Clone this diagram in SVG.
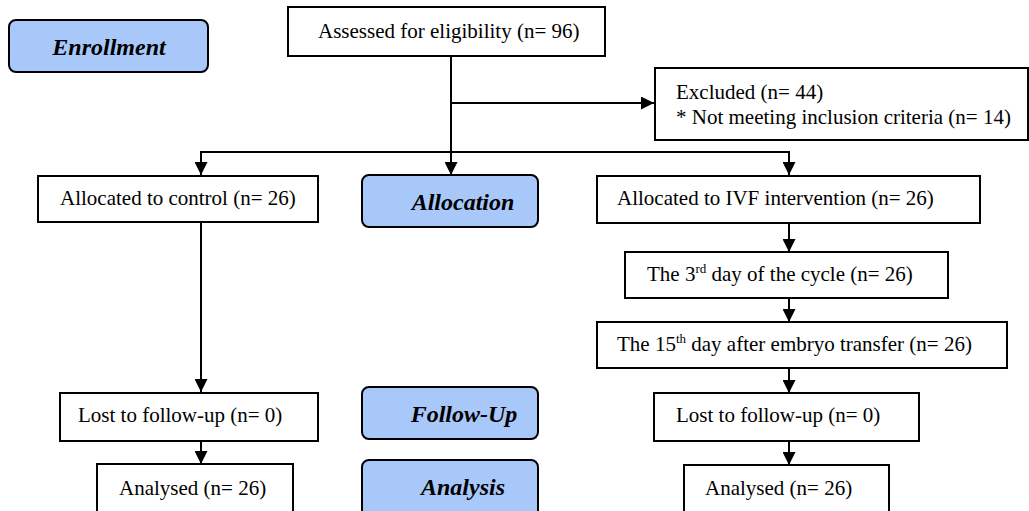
<svg xmlns="http://www.w3.org/2000/svg" width="1029" height="511" viewBox="0 0 1029 511">
<style>
.box{fill:#fff;stroke:#000;stroke-width:2}
.stage{fill:#A9C8FA;stroke:#000;stroke-width:2}
.t{font-family:"Liberation Serif",serif;font-size:21px;fill:#000}
.s{font-family:"Liberation Serif",serif;font-size:24px;font-weight:bold;font-style:italic;fill:#000;text-anchor:middle}
.ln{fill:none;stroke:#000;stroke-width:2}
</style>
<defs>
<marker id="ah" viewBox="0 0 10 10" refX="10" refY="5" markerWidth="13" markerHeight="13" markerUnits="userSpaceOnUse" orient="auto">
<path d="M0,0 L10,5 L0,10 z" fill="#000"/>
</marker>
</defs>
<rect width="1029" height="511" fill="#fff"/>
<g id="connectors">
<path class="ln" d="M451,56 V175" marker-end="url(#ah)"/>
<path class="ln" d="M451,103 H654" marker-end="url(#ah)"/>
<path class="ln" d="M201,175 V152 H789 V175" marker-end="url(#ah)"/>
<path class="ln" d="M201,152 V175" marker-end="url(#ah)"/>
<path class="ln" d="M201,222 V392" marker-end="url(#ah)"/>
<path class="ln" d="M201,441 V464" marker-end="url(#ah)"/>
<path class="ln" d="M789,223 V252" marker-end="url(#ah)"/>
<path class="ln" d="M789,298 V322" marker-end="url(#ah)"/>
<path class="ln" d="M789,368 V393" marker-end="url(#ah)"/>
<path class="ln" d="M789,441 V465" marker-end="url(#ah)"/>
</g>
<g id="enrollment"><rect class="stage" x="9" y="20" width="199" height="52" rx="7"/><text class="s" x="109" y="55">Enrollment</text></g>
<g id="assessed"><rect class="box" x="288" y="7" width="317" height="49"/><text class="t" x="318" y="38">Assessed for eligibility (n= 96)</text></g>
<g id="excluded"><rect class="box" x="655" y="68" width="373" height="72"/><text class="t" x="676" y="99">Excluded (n= 44)</text><text class="t" x="676" y="124">* Not meeting inclusion criteria (n= 14)</text></g>
<g id="control"><rect class="box" x="38" y="176" width="280" height="46"/><text class="t" x="60" y="205">Allocated to control (n= 26)</text></g>
<g id="allocation"><rect class="stage" x="362" y="175" width="176" height="52" rx="7"/><text class="s" x="463" y="210">Allocation</text></g>
<g id="ivf"><rect class="box" x="597" y="176" width="383" height="47"/><text class="t" x="617" y="205">Allocated to IVF intervention (n= 26)</text></g>
<g id="day3"><rect class="box" x="625" y="252" width="323" height="46"/><text class="t" x="647" y="281">The 3<tspan font-size="13" dy="-8">rd</tspan><tspan dy="8"> day of the cycle (n= 26)</tspan></text></g>
<g id="day15"><rect class="box" x="597" y="322" width="410" height="46"/><text class="t" x="617" y="351">The 15<tspan font-size="13" dy="-8">th</tspan><tspan dy="8"> day after embryo transfer (n= 26)</tspan></text></g>
<g id="lost-left"><rect class="box" x="60" y="393" width="258" height="48"/><text class="t" x="78" y="422">Lost to follow-up (n= 0)</text></g>
<g id="followup"><rect class="stage" x="362" y="387" width="176" height="52" rx="7"/><text class="s" x="464" y="422">Follow-Up</text></g>
<g id="lost-right"><rect class="box" x="654" y="393" width="265" height="48"/><text class="t" x="676" y="422">Lost to follow-up (n= 0)</text></g>
<g id="analysed-left"><rect class="box" x="97" y="464" width="196" height="60"/><text class="t" x="119" y="495">Analysed (n= 26)</text></g>
<g id="analysis"><rect class="stage" x="362" y="460" width="176" height="60" rx="7"/><text class="s" x="463" y="495">Analysis</text></g>
<g id="analysed-right"><rect class="box" x="684" y="465" width="205" height="60"/><text class="t" x="705" y="495">Analysed (n= 26)</text></g>
</svg>
